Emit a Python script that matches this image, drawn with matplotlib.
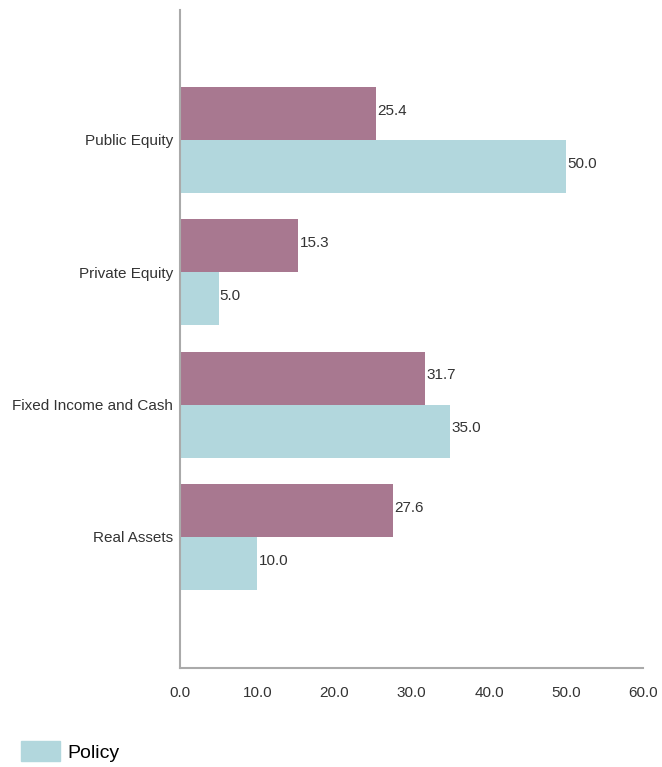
import matplotlib
matplotlib.use("Agg")
import matplotlib.pyplot as plt
import numpy as np
from matplotlib.patches import Patch

categories = ["Public Equity", "Private Equity", "Fixed Income and Cash", "Real Assets"]
actual = [25.4, 15.3, 31.7, 27.6]
policy = [50.0, 5.0, 35.0, 10.0]
xticks = [0, 10, 20, 30, 40, 50, 60]

plt.rcParams['font.family'] = ['Liberation Sans', 'DejaVu Sans']
fs = 11

c_actual = "#A87890"
c_policy = "#B2D7DD"
tc = "#333333"

fig = plt.figure(figsize=(6.62, 7.67), dpi=100)
ax = fig.add_axes([0.272, 0.129, 0.700, 0.858])

y = np.arange(len(categories))
h = 0.4
ax.barh(y - h/2, actual, height=h, color=c_actual, label="Actual")
ax.barh(y + h/2, policy, height=h, color=c_policy, label="Policy")

for yi, v in zip(y, actual):
    ax.text(v + 0.15, yi - h/2 - 0.02, f"{v:.1f}", va="center", ha="left", fontsize=fs, color=tc)
for yi, v in zip(y, policy):
    ax.text(v + 0.15, yi + h/2 - 0.02, f"{v:.1f}", va="center", ha="left", fontsize=fs, color=tc)

ax.set_ylim(len(categories) - 1 + 0.99, -0.98)
ax.set_xlim(0, 60)
ax.set_yticks(y)
ax.set_yticklabels(categories, fontsize=fs)
ax.set_xticks(xticks)
ax.set_xticklabels([f"{t:.1f}" for t in xticks], fontsize=fs)
ax.tick_params(axis="x", length=0, pad=13, colors=tc)
ax.tick_params(axis="y", length=0, pad=5, colors=tc)
for s in ["top", "right"]:
    ax.spines[s].set_visible(False)
for s in ["left", "bottom"]:
    ax.spines[s].set_color("#AAAAAA")
    ax.spines[s].set_linewidth(1.5)

fig.legend(handles=[Patch(color=c_policy, label="Policy")], loc="lower left",
           bbox_to_anchor=(0.005, -0.016), frameon=False, fontsize=14,
           handlelength=2.0, handleheight=1.2, handletextpad=0.4)

fig.savefig("out.png", dpi=100)
